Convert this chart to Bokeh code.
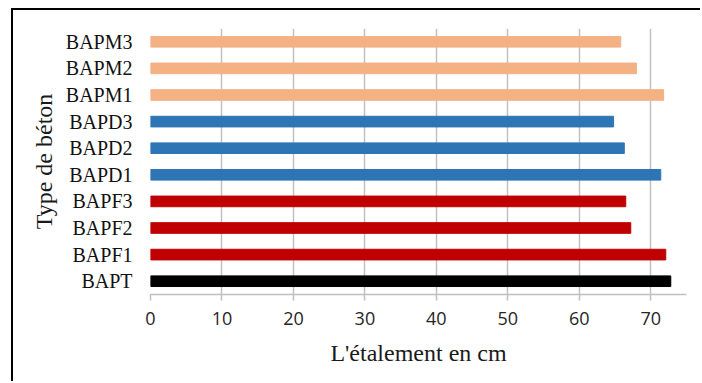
from bokeh.plotting import figure
from bokeh.models import ColumnDataSource, FactorRange, Range1d, SingleIntervalTicker
from bokeh.embed import file_html
from bokeh.resources import INLINE

# Concrete mixes, bottom to top
types = ["BAPT", "BAPF1", "BAPF2", "BAPF3", "BAPD1", "BAPD2", "BAPD3", "BAPM1", "BAPM2", "BAPM3"]
spread_cm = [72.8, 72.1, 67.2, 66.5, 71.4, 66.3, 64.8, 71.8, 68.0, 65.8]
colors = ["#000000", "#C00000", "#C00000", "#C00000",
          "#2E75B6", "#2E75B6", "#2E75B6",
          "#F4B183", "#F4B183", "#F4B183"]

source = ColumnDataSource(dict(types=types, spread=spread_cm, colors=colors))

p = figure(
    width=689, height=373,
    y_range=FactorRange(*types),
    x_range=Range1d(0, 75),
    output_backend="svg", toolbar_location=None,
    min_border_left=137, min_border_right=16,
    min_border_top=18, min_border_bottom=89,
)
p.hbar(y="types", right="spread", left=0, height=0.4, color="colors", source=source)

# thin black frame on the left and top edges of the chart box
p.styles = {
    "margin-left": "11px",
    "margin-top": "8px",
    "border-left": "2px solid black",
    "border-top": "2px solid black",
}

p.outline_line_color = None
p.background_fill_color = "white"
p.border_fill_color = "white"

# x axis
p.xaxis.ticker = SingleIntervalTicker(interval=10)
p.xaxis.axis_line_color = "#c0c0c0"
p.xaxis.axis_line_width = 1.5
p.xaxis.major_tick_line_color = "#c0c0c0"
p.xaxis.major_tick_line_width = 1.5
p.xaxis.major_tick_out = 6
p.xaxis.major_tick_in = 0
p.xaxis.minor_tick_line_color = None
p.xaxis.major_label_text_font = "Open Sans"
p.xaxis.major_label_text_font_size = "18px"
p.xaxis.major_label_text_color = "#262626"
p.xaxis.major_label_standoff = 11
p.xaxis.axis_label = "L'étalement en cm"
p.xaxis.axis_label_text_font = "Liberation Serif"
p.xaxis.axis_label_text_font_size = "24px"
p.xaxis.axis_label_text_font_style = "normal"
p.xaxis.axis_label_text_color = "#1a1a1a"
p.xaxis.axis_label_standoff = 12

# y axis
p.yaxis.axis_line_color = None
p.yaxis.major_tick_line_color = None
p.yaxis.minor_tick_line_color = None
p.yaxis.major_label_text_font = "Liberation Serif"
p.yaxis.major_label_text_font_size = "20px"
p.yaxis.major_label_text_color = "#111111"
p.yaxis.major_label_standoff = 12
p.yaxis.axis_label = "Type de béton"
p.yaxis.axis_label_text_font = "Liberation Serif"
p.yaxis.axis_label_text_font_size = "24px"
p.yaxis.axis_label_text_font_style = "normal"
p.yaxis.axis_label_text_color = "#1a1a1a"
p.yaxis.axis_label_standoff = 6

# grid
p.xgrid.grid_line_color = "#c0c0c0"
p.xgrid.grid_line_width = 1.5
p.ygrid.grid_line_color = None

open("out.html", "w").write(file_html(p, INLINE))
